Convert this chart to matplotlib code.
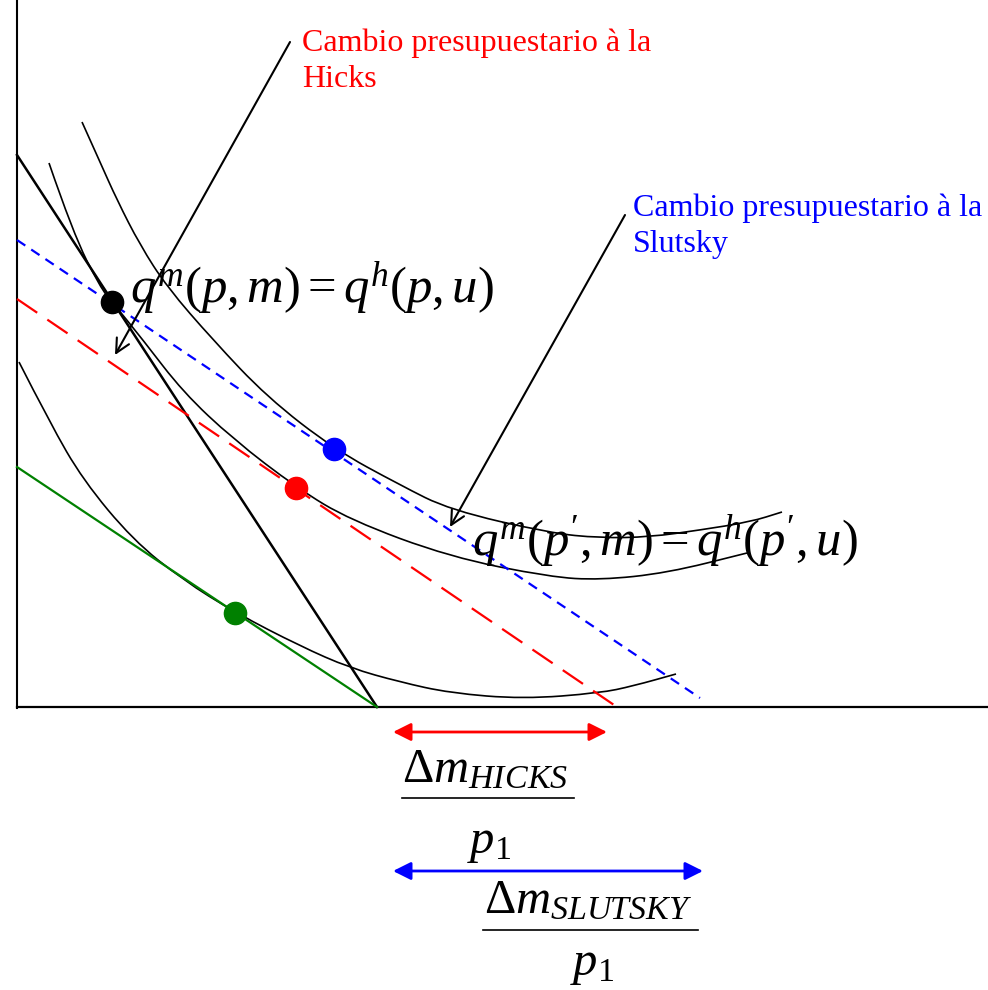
import matplotlib
matplotlib.use("Agg")
import matplotlib.pyplot as plt
from matplotlib.path import Path
from matplotlib.patches import PathPatch

# ── CONFIG ────────────────────────────────────────────────────────────────────
W, H = 988, 990          # picture units (pixels, y pointing down)
plt.rcParams["font.family"] = ["Liberation Serif", "DejaVu Serif"]
plt.rcParams["mathtext.fontset"] = "custom"
plt.rcParams["mathtext.rm"] = "Liberation Serif"
plt.rcParams["mathtext.it"] = "Liberation Serif:italic"
MATH_SIZE = 35
EQ_SIZE = 36.5
LABEL_SIZE = 23
# ─────────────────────────────────────────────────────────────────────────────

# budget lines (end points)
orig_x, orig_y = [17, 377], [155, 707]          # original budget, steep black
green_x, green_y = [17, 377], [467, 707]        # new prices, old income
hicks_x, hicks_y = [17, 617], [299, 707]        # compensated à la Hicks
slutsky_x, slutsky_y = [17, 700], [240, 698]    # compensated à la Slutsky

# indifference curves
upper_x = [82, 100, 117, 140, 167, 213, 267, 334, 400, 450, 550, 600, 650, 700, 750, 782]
upper_y = [122, 162, 200, 245, 287, 340, 397, 449, 485, 510, 533, 538, 537, 530, 522, 512]
middle_x = [49, 73, 100, 113, 143, 183, 233, 297, 350, 450, 550, 600, 667, 747]
middle_y = [163, 233, 287, 303, 340, 392, 439, 488, 520, 557, 577, 580, 573, 553]
lower_x = [19, 50, 83, 133, 183, 236, 300, 350, 400, 450, 523, 600, 633, 676]
lower_y = [362, 423, 480, 540, 580, 613, 646, 668, 682, 693, 699, 693, 686, 674]

# optimum points
pts_x = [112, 334, 296, 235]
pts_y = [302, 449, 488, 613]
pts_c = ["black", "blue", "red", "green"]

# Δm intervals on the horizontal axis
hicks_span = [393, 607]
slutsky_span = [393, 703]


def smooth(xs, ys):
    """Quadratic B-spline style path through the read points."""
    p = list(zip(xs, ys))
    verts, codes = [p[0]], [Path.MOVETO]
    for i in range(1, len(p) - 1):
        mid = ((p[i][0] + p[i + 1][0]) / 2, (p[i][1] + p[i + 1][1]) / 2)
        verts += [p[i], mid]
        codes += [Path.CURVE3, Path.CURVE3]
    verts.append(p[-1])
    codes.append(Path.LINETO)
    return Path(verts, codes)


fig = plt.figure(figsize=(W / 100, H / 100), dpi=100)
ax = fig.add_axes([0, 0, 1, 1])
ax.set_xlim(0, W)
ax.set_ylim(H, 0)
ax.axis("off")

# axes of the diagram
ax.plot([17, 17], [0, 708], color="black", lw=1.5)
ax.plot([17, W], [707, 707], color="black", lw=1.6)

# budget lines
ax.plot(orig_x, orig_y, color="black", lw=1.8)
ax.plot(green_x, green_y, color="green", lw=1.6)
ax.plot(hicks_x, hicks_y, color="red", lw=1.6, dashes=(11, 5.5))
ax.plot(slutsky_x, slutsky_y, color="blue", lw=1.6, dashes=(4.5, 3.2))

# indifference curves
for xs, ys in [(upper_x, upper_y), (middle_x, middle_y), (lower_x, lower_y)]:
    ax.add_patch(PathPatch(smooth(xs, ys), fill=False, ec="black", lw=1.2))

# points
for x, y, c in zip(pts_x, pts_y, pts_c):
    ax.plot(x, y, "o", color=c, ms=16, zorder=5)

# labels with pointer arrows (baseline given for the last line)
ax.text(302, 87, "Cambio presupuestario à la\nHicks", color="red", fontsize=LABEL_SIZE,
        ha="left", va="baseline", linespacing=1.3)
ax.annotate("", xy=(115, 355), xytext=(290, 42),
            arrowprops=dict(arrowstyle="->", color="black", lw=1.5,
                            mutation_scale=25, shrinkA=0, shrinkB=0))
ax.text(633, 252, "Cambio presupuestario à la\nSlutsky", color="blue", fontsize=LABEL_SIZE,
        ha="left", va="baseline", linespacing=1.3)
ax.annotate("", xy=(450, 527), xytext=(625, 215),
            arrowprops=dict(arrowstyle="->", color="black", lw=1.5,
                            mutation_scale=25, shrinkA=0, shrinkB=0))

# equalities
ax.text(130, 303, r"$q^m(p,m) = q^h(p,u)$", fontsize=EQ_SIZE, ha="left", va="baseline")
ax.text(472, 556, r"$q^m(p',m) = q^h(p',u)$", fontsize=EQ_SIZE, ha="left", va="baseline")

# Δm arrows and fractions
ax.annotate("", xy=(hicks_span[1], 732), xytext=(hicks_span[0], 732),
            arrowprops=dict(arrowstyle="<|-|>", color="red", lw=2,
                            mutation_scale=27, shrinkA=0, shrinkB=0))
ax.text(402, 782, r"$\Delta m_{HICKS}$", fontsize=MATH_SIZE, ha="left", va="baseline")
ax.plot([402, 574], [798, 798], color="black", lw=1.2)
ax.text(467, 853, r"$p_1$", fontsize=MATH_SIZE, ha="left", va="baseline")

ax.annotate("", xy=(slutsky_span[1], 871), xytext=(slutsky_span[0], 871),
            arrowprops=dict(arrowstyle="<|-|>", color="blue", lw=2,
                            mutation_scale=27, shrinkA=0, shrinkB=0))
ax.text(484, 913, r"$\Delta m_{SLUTSKY}$", fontsize=MATH_SIZE, ha="left", va="baseline")
ax.plot([483, 698], [930, 930], color="black", lw=1.2)
ax.text(570, 975, r"$p_1$", fontsize=MATH_SIZE, ha="left", va="baseline")

fig.savefig("out.png", dpi=100)
